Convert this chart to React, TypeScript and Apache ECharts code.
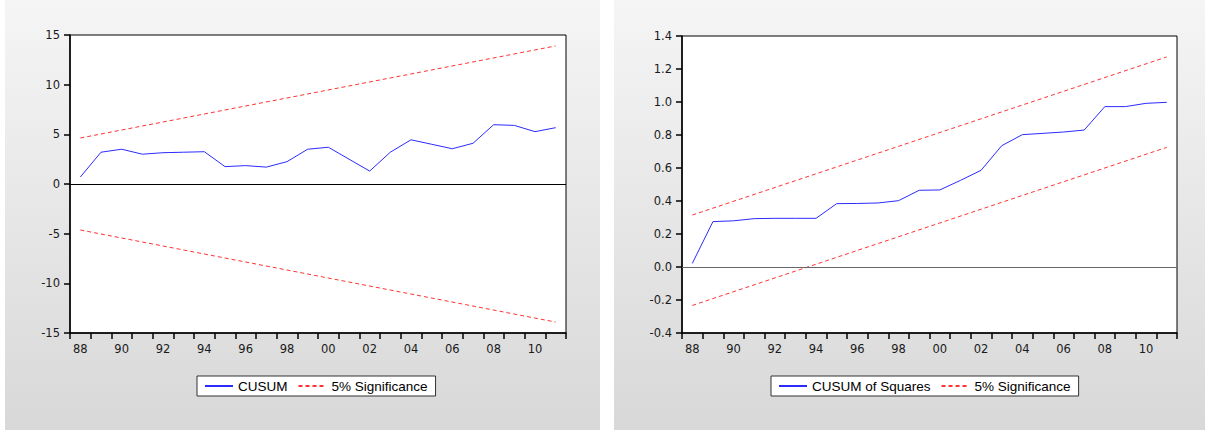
import React, { useEffect, useRef } from "react";
import * as echarts from "echarts";

const years = [
  "1988", "1989", "1990", "1991", "1992", "1993", "1994", "1995",
  "1996", "1997", "1998", "1999", "2000", "2001", "2002", "2003",
  "2004", "2005", "2006", "2007", "2008", "2009", "2010", "2011",
];

const cusum = [
  0.7, 3.2, 3.5, 3.0, 3.15, 3.2, 3.25, 1.75, 1.85, 1.7, 2.25, 3.5,
  3.7, 2.5, 1.3, 3.2, 4.45, 4.0, 3.55, 4.1, 5.97, 5.9, 5.27, 5.67,
];
const cusumUpper = [["1988", 4.63], ["2011", 13.9]];
const cusumLower = [["1988", -4.63], ["2011", -13.9]];

const cusumSq = [
  0.022, 0.275, 0.28, 0.293, 0.295, 0.295, 0.295, 0.384, 0.385, 0.388, 0.402, 0.465,
  0.467, 0.525, 0.586, 0.735, 0.802, 0.81, 0.818, 0.83, 0.972, 0.972, 0.992, 0.998,
];
const sqUpper = [["1988", 0.315], ["2011", 1.273]];
const sqLower = [["1988", -0.233], ["2011", 0.725]];

const BLUE = "#2b2bff";
const RED = "#ff3333";
const AXIS_FONT = "DejaVu Sans";
const LEGEND_FONT = "Liberation Sans, Arial, sans-serif";

function xAxis(gridIndex: number) {
  return {
    type: "category",
    gridIndex,
    data: years,
    boundaryGap: true,
    axisLine: { show: true, onZero: false, lineStyle: { color: "#000", width: 1.5 } },
    axisTick: { show: true, interval: 0, length: 6, lineStyle: { color: "#000", width: 1.5 } },
    axisLabel: {
      interval: 1,
      formatter: (v: string) => v.slice(2),
      margin: 10,
      color: "#1a1a1a",
      fontFamily: AXIS_FONT,
      fontSize: 11.5,
    },
    splitLine: { show: false },
  };
}

function yAxis(gridIndex: number, min: number, max: number, interval: number, digits: number) {
  return {
    type: "value",
    gridIndex,
    min,
    max,
    interval,
    axisLine: { show: true, lineStyle: { color: "#000", width: 1.5 } },
    axisTick: { show: true, length: 6, lineStyle: { color: "#000", width: 1.5 } },
    axisLabel: {
      margin: 10,
      color: "#1a1a1a",
      fontFamily: AXIS_FONT,
      fontSize: 11.5,
      formatter: (v: number) => (Math.abs(v) < 1e-9 ? (0).toFixed(digits) : v.toFixed(digits)),
    },
    splitLine: { show: false },
  };
}

function zeroLine(color: string) {
  return {
    silent: true,
    symbol: ["none", "none"],
    label: { show: false },
    lineStyle: { color, width: 1, type: "solid" },
    data: [{ yAxis: 0 }],
  };
}

const panelFill = {
  type: "linear",
  x: 0,
  y: 0,
  x2: 0,
  y2: 1,
  colorStops: [
    { offset: 0, color: "#f5f5f5" },
    { offset: 1, color: "#d8d8d8" },
  ],
};

function legend(left: number, names: string[]) {
  return {
    left,
    top: 376,
    orient: "horizontal",
    data: names,
    itemWidth: 28,
    itemHeight: 10,
    itemGap: 10,
    padding: [3, 8, 3, 7],
    backgroundColor: "#fff",
    borderColor: "#333",
    borderWidth: 1,
    borderRadius: 0,
    itemStyle: { opacity: 0 },
    textStyle: { color: "#000", fontFamily: LEGEND_FONT, fontSize: 13.5 },
  };
}

export default function App() {
  const ref = useRef<HTMLDivElement>(null);
  useEffect(() => {
    if (!ref.current) return;
    const chart = echarts.init(ref.current, undefined, { renderer: "svg" });
    const dashed = { color: RED, width: 1, type: [4, 3] };
    chart.setOption({
      animation: false,
      backgroundColor: "#fff",
      graphic: [
        { type: "rect", z: -1, shape: { x: 5, y: 0, width: 595, height: 430 }, style: { fill: panelFill } },
        { type: "rect", z: -1, shape: { x: 614, y: 0, width: 591, height: 430 }, style: { fill: panelFill } },
      ],
      grid: [
        { left: 70, top: 35, width: 496, height: 298, show: true, backgroundColor: "#fff", borderColor: "#000", borderWidth: 1 },
        { left: 682, top: 36, width: 495, height: 297, show: true, backgroundColor: "#fff", borderColor: "#000", borderWidth: 1 },
      ],
      xAxis: [xAxis(0), xAxis(1)],
      yAxis: [yAxis(0, -15, 15, 5, 0), yAxis(1, -0.4, 1.4, 0.2, 1)],
      legend: [
        legend(197, ["CUSUM", "5% Significance"]),
        legend(771, ["CUSUM of Squares", "5% Significance"]),
      ],
      series: [
        {
          name: "CUSUM",
          type: "line",
          xAxisIndex: 0,
          yAxisIndex: 0,
          data: cusum,
          symbol: "none",
          color: BLUE,
          lineStyle: { color: BLUE, width: 1 },
          markLine: zeroLine("#000"),
        },
        { name: "5% Significance", type: "line", xAxisIndex: 0, yAxisIndex: 0, data: cusumUpper, symbol: "none", color: RED, lineStyle: dashed },
        { name: "5% Significance", type: "line", xAxisIndex: 0, yAxisIndex: 0, data: cusumLower, symbol: "none", color: RED, lineStyle: dashed },
        {
          name: "CUSUM of Squares",
          type: "line",
          xAxisIndex: 1,
          yAxisIndex: 1,
          data: cusumSq,
          symbol: "none",
          color: BLUE,
          lineStyle: { color: BLUE, width: 1 },
          markLine: zeroLine("#666"),
        },
        { name: "5% Significance", type: "line", xAxisIndex: 1, yAxisIndex: 1, data: sqUpper, symbol: "none", color: RED, lineStyle: dashed },
        { name: "5% Significance", type: "line", xAxisIndex: 1, yAxisIndex: 1, data: sqLower, symbol: "none", color: RED, lineStyle: dashed },
      ],
    });
    return () => chart.dispose();
  }, []);
  return (
    <div
      ref={ref}
      style={{ position: "absolute", left: 0, top: 0, width: 1205, height: 430 }}
    />
  );
}
